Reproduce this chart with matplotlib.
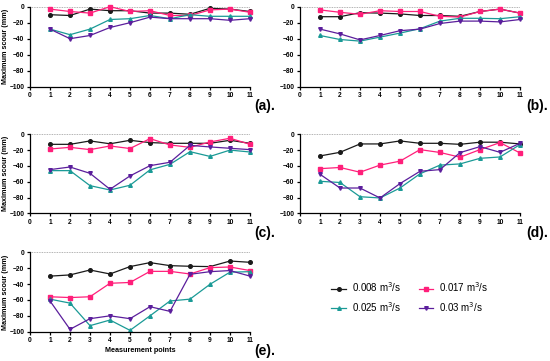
import matplotlib
matplotlib.use("Agg")
import matplotlib.pyplot as plt
from matplotlib.lines import Line2D

plt.rcParams['font.family'] = ['Liberation Sans', 'DejaVu Sans']

points = list(range(1, 12))
series_labels = ['0.008 m$^3$/s', '0.017 m$^3$/s', '0.025 m$^3$/s', '0.03 m$^3$/s']
colors = ['#1a1a1a', '#ff1f7a', '#1a9a96', '#5b1e9c']
markers = ['o', 's', '^', 'v']

# panel (a)
a_008 = [-10, -11, -3, -5, -5, -8, -8, -9.5, -2, -3, -6]
a_017 = [-3, -6, -8, 0, -6, -5, -11, -11, -4, -3, -7]
a_025 = [-28, -35, -28, -16, -15, -11, -15, -10, -12, -12, -12]
a_03 = [-28, -40, -36, -26, -20, -13, -15, -15, -15, -17, -15]

# panel (b)
b_008 = [-12.5, -12.5, -7.5, -8, -9, -11, -11, -12, -6, -3, -8]
b_017 = [-4, -7, -9.5, -5, -6, -6, -12, -13, -6, -3, -8]
b_025 = [-36, -41, -43, -38, -33, -27.5, -18, -14.5, -14.5, -15, -12.5]
b_03 = [-28, -34, -41.5, -36, -30, -28, -21, -18, -18, -19, -16]

# panel (c)
c_008 = [-12.7, -12.7, -8.4, -12, -7.6, -10.5, -11.4, -11.4, -11.4, -7.6, -11.4]
c_017 = [-18.6, -16.5, -19.4, -14.8, -18, -5.5, -13.5, -16.5, -9.7, -5, -12.7]
c_025 = [-46, -46, -65, -70.5, -64.5, -45, -38, -22, -28, -20, -22.4]
c_03 = [-44.7, -41.4, -49.4, -69.6, -52.7, -39.7, -35.4, -14, -16, -17.7, -19.4]

# panel (d)
d_008 = [-27.4, -22.8, -12.2, -12.2, -8.4, -11.4, -11.4, -12.7, -10, -10, -12.2]
d_017 = [-43.5, -42, -48, -39, -34, -19.4, -23, -29, -19.4, -10.5, -23.6]
d_025 = [-59.5, -61, -79, -80.6, -68, -50, -39, -37.5, -30.4, -28.7, -13]
d_03 = [-50.6, -68, -68, -80.6, -62.4, -46.8, -44.7, -23.2, -15.6, -22.8, -11.4]

# panel (e)
e_008 = [-30, -28.5, -22.3, -27.3, -18, -13, -16.8, -17.6, -18, -11, -12.6]
e_017 = [-56, -57, -56, -39, -38, -24, -24, -27.3, -19.3, -18.5, -23]
e_025 = [-59, -64, -92.4, -85.3, -98.3, -80, -61.3, -59, -40.3, -25, -24.4]
e_03 = [-61.3, -97, -83.6, -80, -83.6, -68.5, -74.4, -27.7, -24.4, -23, -30]

panels = [
    ('(a).', [a_008, a_017, a_025, a_03]),
    ('(b).', [b_008, b_017, b_025, b_03]),
    ('(c).', [c_008, c_017, c_025, c_03]),
    ('(d).', [d_008, d_017, d_025, d_03]),
    ('(e).', [e_008, e_017, e_025, e_03]),
]

W, H = 550, 361
fig = plt.figure(figsize=(W / 100, H / 100), dpi=100)

# pixel boxes: (left, right, top of 0, bottom of -100)
boxes = [
    (30, 250, 6.7, 86.7),
    (300, 520, 6.7, 86.7),
    (30, 250, 134.3, 213.3),
    (300, 520, 134.3, 213.3),
    (30, 250, 252.3, 331.7),
]

for i, ((tag, data), (l, r, t, b)) in enumerate(zip(panels, boxes)):
    ax = fig.add_axes([l / W, 1 - b / H, (r - l) / W, (b - t) / H])
    ax.axhline(0, color='#999999', lw=0.6, ls=(0, (1, 1)), zorder=0)
    for vals, c, m in zip(data, colors, markers):
        ax.plot(points, vals, color=c, marker=m, ms=2.6, lw=0.9, clip_on=False)
    ax.set_xlim(0, 11)
    ax.set_ylim(-100, 0)
    ax.set_xticks(range(0, 12))
    ax.set_yticks(range(-100, 1, 20))
    for s in ['top', 'right']:
        ax.spines[s].set_visible(False)
    for s in ['left', 'bottom']:
        ax.spines[s].set_linewidth(0.9)
    ax.tick_params(labelsize=4.8, width=0.9, length=2.5, pad=1.5)
    for lab in ax.get_xticklabels() + ax.get_yticklabels():
        lab.set_fontweight('bold')
    if i % 2 == 0:
        ax.set_ylabel('Maximum scour (mm)', fontsize=5.2, fontweight='bold', labelpad=0.5)
    if i == 4:
        ax.set_xlabel('Measurement points', fontsize=5.2, fontweight='bold', labelpad=2)
    lx = 265 if i % 2 == 0 else 537
    ly = b + 19.5
    fig.text(lx / W, 1 - ly / H, tag, fontsize=10, fontweight='bold',
             ha='center', va='center')

# legend fills column by column, so order for rows: 0.008 | 0.017 / 0.025 | 0.03
order = [0, 2, 1, 3]
handles = [Line2D([], [], color=colors[k], marker=markers[k], ms=2.6, lw=0.9) for k in order]
labels = [series_labels[k] for k in order]
fig.legend(handles, labels, loc='center', bbox_to_anchor=(410 / W, 1 - 297 / H),
           ncol=2, frameon=False, fontsize=7, handlelength=1.5, handletextpad=0.6,
           columnspacing=1.8, labelspacing=0.6)

fig.savefig('out.png', dpi=100)
